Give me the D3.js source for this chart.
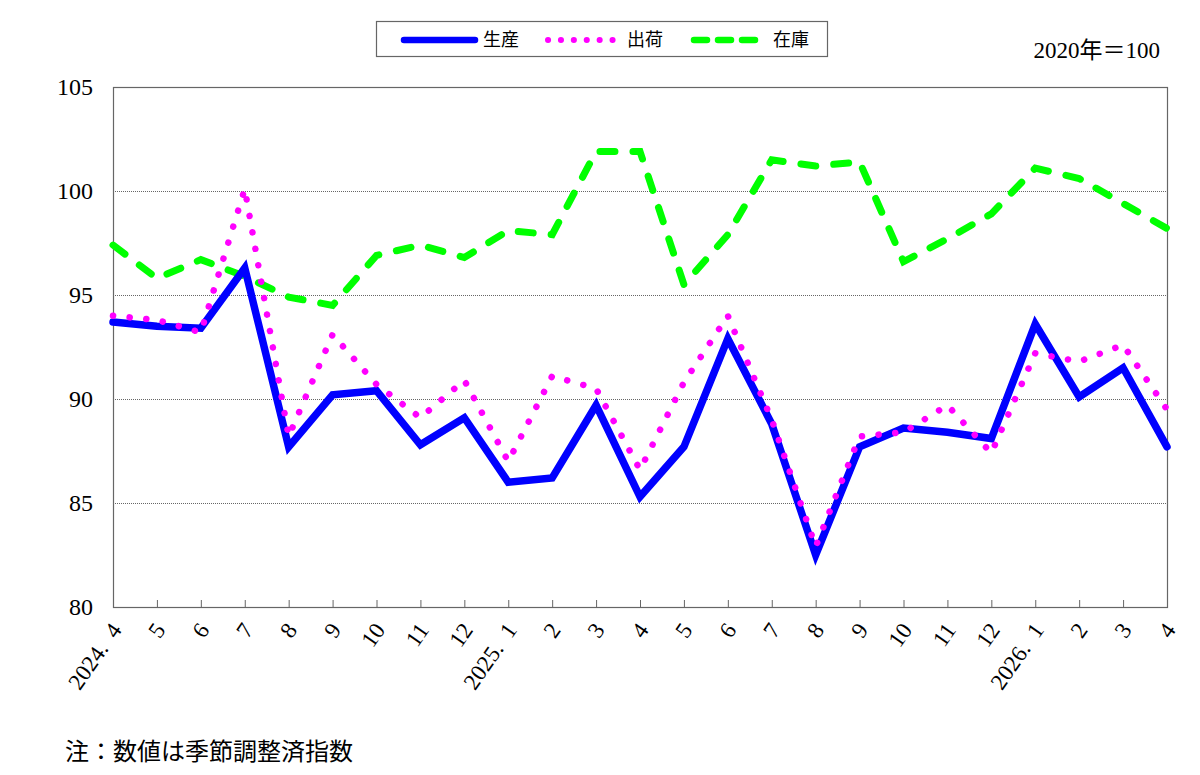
<!DOCTYPE html>
<html>
<head>
<meta charset="utf-8">
<script src="https://cdn.jsdelivr.net/npm/d3@7"></script>
<style>
  body { margin: 0; background: #fff; }
  svg { display: block; }
</style>
</head>
<body>
<div id="chart"></div>
<script>
var w = 1200,
	h = 775;

// months, 2024.4 - 2026.4
var months = ["2024-04","2024-05","2024-06","2024-07","2024-08","2024-09","2024-10","2024-11","2024-12",
	"2025-01","2025-02","2025-03","2025-04","2025-05","2025-06","2025-07","2025-08","2025-09","2025-10","2025-11","2025-12",
	"2026-01","2026-02","2026-03","2026-04"];
var monthLabels = ["2024.\u00a0\u00a04","5","6","7","8","9","10","11","12",
	"2025.\u00a0\u00a01","2","3","4","5","6","7","8","9","10","11","12",
	"2026.\u00a0\u00a01","2","3","4"];

//Data
var production = [93.7,93.5,93.4,96.3,87.7,90.2,90.4,87.8,89.1,86.0,86.2,89.7,85.3,87.7,92.9,88.8,82.5,87.7,88.6,88.4,88.1,93.6,90.1,91.5,87.7];
var shipments  = [94.0,93.8,93.2,100.1,88.2,93.1,90.7,89.1,90.9,87.0,91.1,90.5,86.6,90.8,94.0,89.0,82.9,88.2,88.4,89.7,87.4,92.2,91.8,92.6,89.5];
var inventory  = [97.4,95.8,96.7,95.9,94.9,94.5,96.9,97.4,96.8,98.1,97.9,101.9,101.9,95.5,97.9,101.5,101.2,101.4,96.6,97.7,98.9,101.1,100.6,99.4,98.2];

var yTicks = [80,85,90,95,100,105];
var gridTicks = [85,90,95,100];

var series = [
	{name:"生産", values: production, color:"#0000ff", width:7.5, dash:null, cap:"round"},
	{name:"出荷", values: shipments, color:"#ff00ff", width:6.5, dash:"0.1 16.6", cap:"round"},
	{name:"在庫", values: inventory, color:"#00ff00", width:7, dash:"15 18", cap:"round"}
];

var margin = {left:113, right:33, top:87, bottom:168};

var x = d3.scalePoint()
	.domain(months)
	.range([margin.left, w - margin.right]);

var y = d3.scaleLinear()
	.domain([80,105])
	.range([h - margin.bottom, margin.top]);

var svg = d3.select("#chart").append("svg")
	.attr("width", w)
	.attr("height", h);

var serif = "'Liberation Serif','DejaVu Serif','Noto Sans CJK JP',serif";
var gothic = "'Noto Sans CJK JP','Noto Sans',sans-serif";

//gridlines
svg.append("g")
	.selectAll("line")
	.data(gridTicks)
	.enter()
	.append("line")
	.attr("x1", margin.left)
	.attr("x2", w - margin.right)
	.attr("y1", function(d){ return y(d) + 0.5; })
	.attr("y2", function(d){ return y(d) + 0.5; })
	.attr("stroke", "#666")
	.attr("stroke-width", 1)
	.attr("stroke-dasharray", "1 1");

//y axis labels
var yAxis = d3.axisLeft(y).tickValues(yTicks).tickSize(0).tickPadding(20);
var yg = svg.append("g")
	.attr("transform", "translate(" + margin.left + ",0)")
	.call(yAxis);
yg.select(".domain").remove();
yg.selectAll("text")
	.attr("font-family", serif)
	.attr("font-size", "24px")
	.attr("fill", "#000");

//x axis, ticks inside
var xAxis = d3.axisBottom(x).tickSize(-7).tickFormat(function(d, i){ return monthLabels[i]; });
var xg = svg.append("g")
	.attr("transform", "translate(0," + (h - margin.bottom) + ")")
	.call(xAxis);
xg.select(".domain").remove();
xg.selectAll("line").attr("stroke", "#666");
xg.selectAll("text")
	.attr("font-family", serif)
	.attr("font-size", "23px")
	.attr("fill", "#000")
	.attr("text-anchor", "end")
	.attr("y", 0)
	.attr("dy", 0)
	.attr("transform", "translate(9,23) rotate(-55)");

//frame
svg.append("rect")
	.attr("x", margin.left + 0.5)
	.attr("y", margin.top + 0.5)
	.attr("width", w - margin.left - margin.right)
	.attr("height", h - margin.top - margin.bottom)
	.attr("fill", "none")
	.attr("stroke", "#666")
	.attr("stroke-width", 1.2);

//lines
var line = d3.line()
	.x(function(d, i){ return x(months[i]); })
	.y(function(d){ return y(d); });

// inventory first, then production, shipments dots on top
var order = [2, 0, 1];
order.forEach(function(k){
	var s = series[k];
	svg.append("path")
		.datum(s.values)
		.attr("d", line)
		.attr("fill", "none")
		.attr("stroke", s.color)
		.attr("stroke-width", s.width)
		.attr("stroke-linecap", s.cap)
		.attr("stroke-linejoin", "miter")
		.attr("stroke-dasharray", s.dash);
});

////////// legend //////////
var legend = svg.append("g").attr("class", "legend");
legend.append("rect")
	.attr("x", 376.5)
	.attr("y", 21.5)
	.attr("width", 451)
	.attr("height", 35)
	.attr("fill", "#fff")
	.attr("stroke", "#666")
	.attr("stroke-width", 1.2);

var legX = [404, 548, 694];
var legDash = [null, "0.1 12.8", "13 11"];
series.forEach(function(s, i){
	legend.append("line")
		.attr("x1", legX[i])
		.attr("x2", legX[i] + 71)
		.attr("y1", 40)
		.attr("y2", 40)
		.attr("stroke", s.color)
		.attr("stroke-width", i == 1 ? 6 : 6.5)
		.attr("stroke-linecap", "round")
		.attr("stroke-dasharray", legDash[i]);
	legend.append("text")
		.attr("x", legX[i] + 79)
		.attr("y", 40)
		.attr("dy", "0.36em")
		.attr("font-family", gothic)
		.attr("font-size", "18px")
		.attr("fill", "#000")
		.text(s.name);
});

svg.append("text")
	.attr("x", 1160)
	.attr("y", 58)
	.attr("text-anchor", "end")
	.attr("font-family", serif)
	.attr("font-size", "23px")
	.attr("fill", "#000")
	.text("2020年＝100");

svg.append("text")
	.attr("x", 65)
	.attr("y", 760)
	.attr("font-family", serif)
	.attr("font-size", "24px")
	.attr("fill", "#000")
	.text("注：数値は季節調整済指数");
</script>
</body>
</html>
